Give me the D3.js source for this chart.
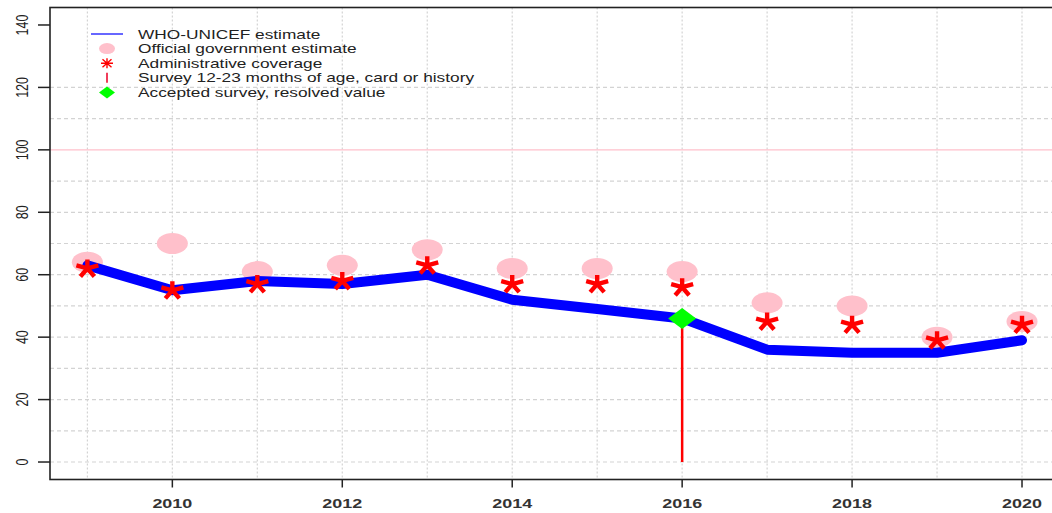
<!DOCTYPE html>
<html>
<head>
<meta charset="utf-8">
<script src="https://cdn.jsdelivr.net/npm/d3@7"></script>
<style>
  html, body { margin: 0; padding: 0; background: #fff; overflow: hidden; }
  svg { display: block; font-family: "Liberation Sans", Arial, sans-serif; }
</style>
</head>
<body>
<svg id="chart" width="1052" height="513"></svg>
<script>
// ---- data ----
const years = [2009, 2010, 2011, 2012, 2013, 2014, 2015, 2016, 2017, 2018, 2019, 2020];
const wuenic = [63, 55, 58, 57, 60, 52, 49, 46, 36, 35, 35, 39];
const officialEstimate = [64, 70, 61, 63, 68, 62, 62, 61, 51, 50, 40, 45];
const adminCoverage = [62, 55, 57, 58, 63, 57, 57, 56, 45, 44, 39, 44];
const surveyYears = [2016];
const surveyValues = [46];
const acceptedSurveyYears = [2016];
const acceptedSurveyValues = [46];
const xTickValues = [2010, 2012, 2014, 2016, 2018, 2020];
const yTickValues = [0, 20, 40, 60, 80, 100, 120, 140];
const yGridValues = [0, 10, 20, 30, 40, 50, 60, 70, 80, 90, 110, 120];
const legendLabels = [
  "WHO-UNICEF estimate",
  "Official government estimate",
  "Administrative coverage",
  "Survey 12-23 months of age, card or history",
  "Accepted survey, resolved value"
];

(function () {
// ---- layout ----
const SX = 1.33; // horizontal stretch of text
const svg = d3.select("#chart");
const pL = 50, pR = 1059.4, pT = 7.5, pB = 479.5;
const x = d3.scaleLinear().domain([2008.56, 2020.44]).range([pL, pR]);
const y = d3.scaleLinear().domain([-5.6, 145.6]).range([pB, pT]);

// grid
const grid = svg.append("g");
grid.selectAll("line.v").data(years).join("line")
  .attr("x1", d => x(d)).attr("x2", d => x(d))
  .attr("y1", pT).attr("y2", pB)
  .attr("stroke", "#d3d3d3").attr("stroke-width", 1.2)
  .attr("stroke-dasharray", "2,2");
grid.selectAll("line.h").data(yGridValues).join("line")
  .attr("x1", pL).attr("x2", pR)
  .attr("y1", d => y(d)).attr("y2", d => y(d))
  .attr("stroke", "#d3d3d3").attr("stroke-width", 1.2)
  .attr("stroke-dasharray", "4,3");

// 100 reference line
svg.append("line")
  .attr("x1", pL).attr("x2", pR)
  .attr("y1", y(100)).attr("y2", y(100))
  .attr("stroke", "#ffc0cb").attr("stroke-width", 1.2);

// official estimate circles
svg.append("g").selectAll("ellipse").data(years).join("ellipse")
  .attr("cx", d => x(d))
  .attr("cy", (d, i) => y(officialEstimate[i]))
  .attr("rx", 15.5).attr("ry", 10.5)
  .attr("fill", "#ffc0cb");

// survey lines
svg.append("g").selectAll("line").data(surveyYears).join("line")
  .attr("x1", d => x(d)).attr("x2", d => x(d))
  .attr("y1", y(0)).attr("y2", (d, i) => y(surveyValues[i]))
  .attr("stroke", "#ff0000").attr("stroke-width", 2.5);

// WUENIC line
const line = d3.line().x((d, i) => x(years[i])).y(d => y(d));
svg.append("path").datum(wuenic)
  .attr("d", line)
  .attr("fill", "none")
  .attr("stroke", "#0000ff")
  .attr("stroke-width", 10)
  .attr("stroke-linejoin", "round")
  .attr("stroke-linecap", "round");

// asterisk path
function asterisk(s) {
  const arms = [[0, -9], [-11, -3], [11, -3], [-7, 8], [7, 8]];
  return arms.map(a => `M0,0L${a[0] * s},${a[1] * s}`).join("");
}
svg.append("g").selectAll("path").data(years).join("path")
  .attr("transform", (d, i) => `translate(${x(d)},${y(adminCoverage[i])})`)
  .attr("d", asterisk(1))
  .attr("fill", "none")
  .attr("stroke", "#ff0000").attr("stroke-width", 4.4)
  .attr("stroke-linecap", "butt");

// accepted survey diamonds
function diamond(rx, ry) { return `M0,${-ry}L${rx},0L0,${ry}L${-rx},0Z`; }
svg.append("g").selectAll("path").data(acceptedSurveyYears).join("path")
  .attr("transform", (d, i) => `translate(${x(d)},${y(acceptedSurveyValues[i])})`)
  .attr("d", diamond(14, 10.5))
  .attr("fill", "#00ff00");

// box
svg.append("rect")
  .attr("x", pL).attr("y", pT)
  .attr("width", pR - pL).attr("height", pB - pT)
  .attr("fill", "none").attr("stroke", "#222").attr("stroke-width", 1.6);

// y axis
const yAxisG = svg.append("g");
yAxisG.selectAll("line").data(yTickValues).join("line")
  .attr("x1", pL - 12).attr("x2", pL)
  .attr("y1", d => y(d)).attr("y2", d => y(d))
  .attr("stroke", "#222").attr("stroke-width", 1.5);
yAxisG.selectAll("text").data(yTickValues).join("text")
  .attr("transform", d => `translate(22,${y(d)}) scale(${SX},1) rotate(-90)`)
  .attr("text-anchor", "middle")
  .attr("dy", "0.35em")
  .attr("font-size", 12.5)
  .attr("fill", "#222")
  .text(d => d);

// x axis
const xAxisG = svg.append("g");
xAxisG.selectAll("line").data(xTickValues).join("line")
  .attr("x1", d => x(d)).attr("x2", d => x(d))
  .attr("y1", pB).attr("y2", pB + 8)
  .attr("stroke", "#222").attr("stroke-width", 1.5);
xAxisG.selectAll("text").data(xTickValues).join("text")
  .attr("transform", d => `translate(${x(d)},508) scale(${SX},1)`)
  .attr("text-anchor", "middle")
  .attr("font-size", 13.5)
  .attr("font-weight", "bold")
  .attr("fill", "#333")
  .text(d => d);

// legend
const lg = svg.append("g");
const lx = 107, ly0 = 34, ldy = 14.6;
lg.append("line").attr("x1", 91).attr("x2", 123)
  .attr("y1", ly0).attr("y2", ly0).attr("stroke", "#0000ff").attr("stroke-width", 1.2);
lg.append("ellipse").attr("cx", lx).attr("cy", ly0 + ldy).attr("rx", 8).attr("ry", 5.5).attr("fill", "#ffc0cb");
lg.append("path").attr("transform", `translate(${lx},${ly0 + 2 * ldy})`)
  .attr("d", "M-6,0L6,0M0,-5L0,5M-4.5,-4L4.5,4M-4.5,4L4.5,-4")
  .attr("stroke", "#ff0000").attr("stroke-width", 1.4).attr("fill", "none");
lg.append("line").attr("x1", lx).attr("x2", lx)
  .attr("y1", ly0 + 3 * ldy - 5).attr("y2", ly0 + 3 * ldy + 5)
  .attr("stroke", "#f03c5a").attr("stroke-width", 2);
lg.append("path").attr("transform", `translate(${lx},${ly0 + 4 * ldy})`)
  .attr("d", diamond(8, 6)).attr("fill", "#00ff00");
lg.selectAll("text").data(legendLabels).join("text")
  .attr("transform", (d, i) => `translate(138,${ly0 + i * ldy}) scale(${SX},1)`)
  .attr("dy", "0.35em")
  .attr("font-size", 13)
  .attr("fill", "#222")
  .text(d => d);
})();
</script>
</body>
</html>
